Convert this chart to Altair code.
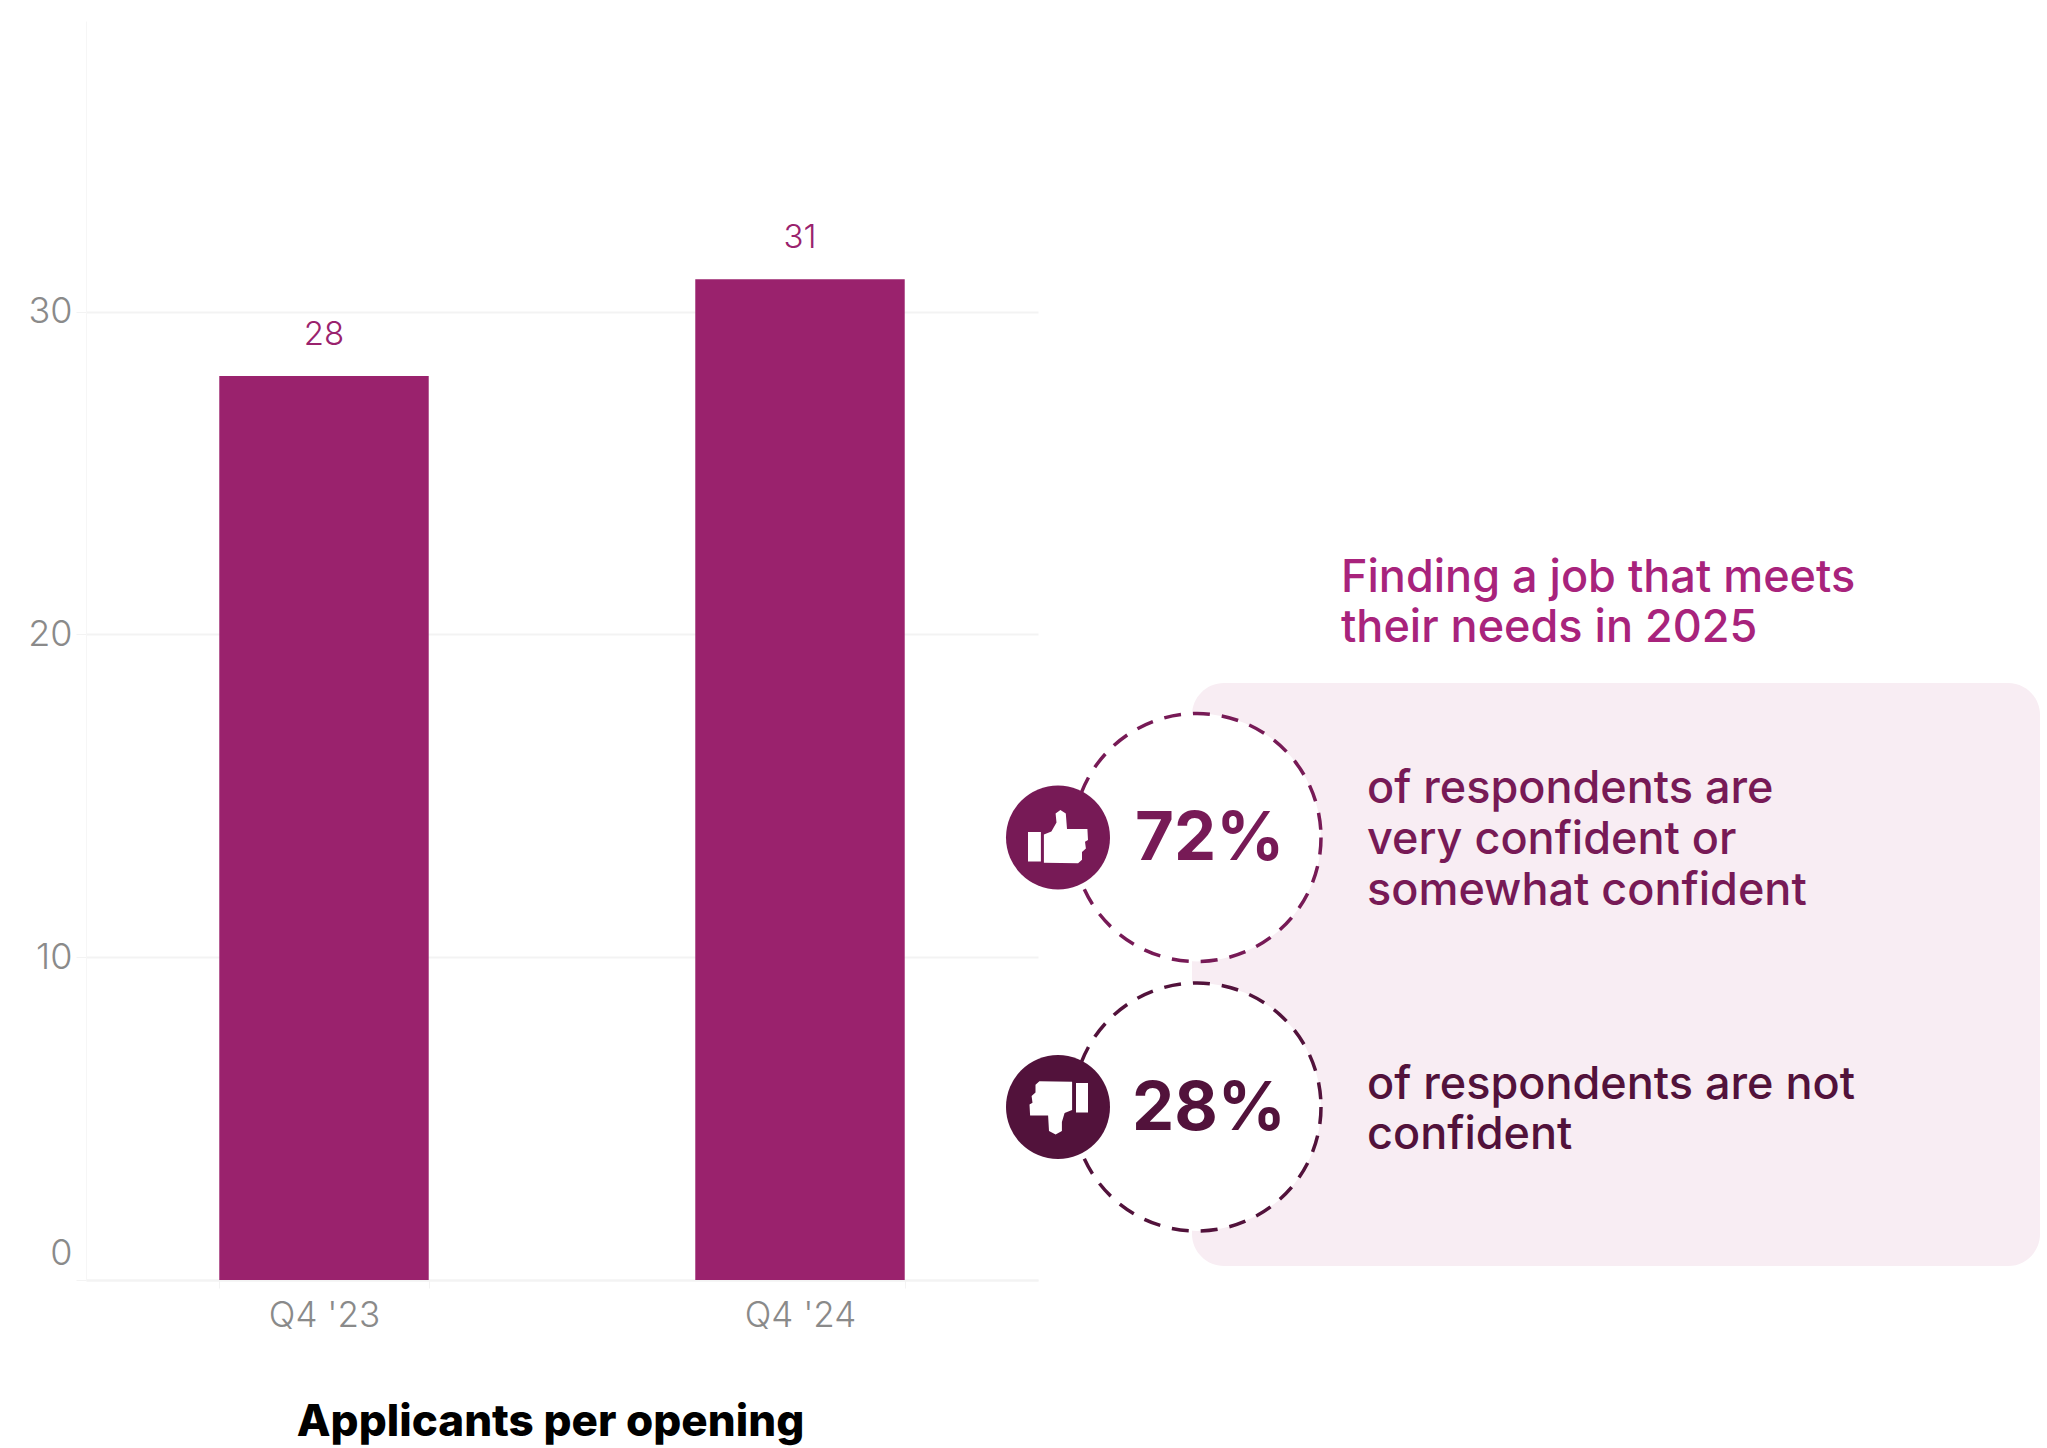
import altair as alt
import pandas as pd

# Applicants per opening, by quarter
quarters = ["Q4 '23", "Q4 '24"]
applicants = [28, 31]
y_ticks = [0, 10, 20, 30]

heading_lines = ["Finding a job that meets", "their needs in 2025"]
confident_share = "72%"
not_confident_share = "28%"
confident_lines = ["of respondents are", "very confident or", "somewhat confident"]
not_confident_lines = ["of respondents are not", "confident"]
axis_title = "Applicants per opening"

PLOT_W, PLOT_H, LEFT, TOP = 952, 1259, 86, 21
BODY = "Inter"
BAR = "#9a226d"
PLUM = "#771a56"
DARK = "#52123b"
HEAD = "#a8237c"
GRID = "#f3f3f3"

df = pd.DataFrame({"quarter": quarters, "applicants": applicants})

x = alt.X(
    "quarter:N",
    sort=quarters,
    scale=alt.Scale(paddingInner=0.56, paddingOuter=0.28),
    axis=alt.Axis(
        title=axis_title,
        titleFont=BODY,
        titleFontSize=44,
        titleFontWeight=800,
        titleColor="#000000",
        titleX=464,
        titleY=120,
        labelFont=BODY,
        labelFontSize=35,
        labelFontWeight=300,
        labelColor="#8a8a8a",
        labelAngle=0,
        labelPadding=10,
        tickBand="extent",
        tickColor=GRID,
        tickSize=8,
        domainColor=GRID,
        domainWidth=2,
        grid=False,
    ),
)
y = alt.Y(
    "applicants:Q",
    scale=alt.Scale(domain=[0, 39], nice=False),
    axis=alt.Axis(
        title=None,
        values=y_ticks,
        labelFont=BODY,
        labelFontSize=36,
        labelFontWeight=300,
        labelColor="#8a8a8a",
        labelPadding=4,
        labelOffset={"condition": {"test": "datum.value === 0", "value": -27}, "value": 0},
        tickColor=GRID,
        tickSize=10,
        domainColor="#f6f6f6",
        gridColor=GRID,
        gridWidth=2,
    ),
)

bars = alt.Chart(df).mark_bar(color=BAR).encode(x=x, y=y)
bar_labels = alt.Chart(df).mark_text(
    font=BODY, fontSize=33, fontWeight=300, color=BAR, dy=-41
).encode(x=alt.X("quarter:N", sort=quarters), y="applicants:Q", text="applicants:Q")


def px(page_x, page_y):
    """Encoding channels for a position given in page pixels."""
    return {"x": alt.value(page_x - LEFT), "y": alt.value(page_y - TOP)}


def note(text, page_x, page_y, size, color, weight=500):
    return alt.Chart(df.head(1)).mark_text(
        font=BODY, fontSize=size, fontWeight=weight, color=color, align="left", baseline="middle"
    ).encode(text=alt.value(text), **px(page_x, page_y))


def symbol(shape, page_x, page_y, size, **style):
    return alt.Chart(df.head(1)).mark_point(shape=shape, size=size, filled=False, opacity=1, **style).encode(
        **px(page_x, page_y)
    )


# Rounded backdrop of the confidence panel
panel = alt.Chart(df.head(1)).mark_rect(color="#f8edf3", cornerRadius=32).encode(
    x=alt.value(1192 - LEFT), x2=alt.value(2040 - LEFT),
    y=alt.value(683 - TOP), y2=alt.value(1266 - TOP),
)

THUMB_UP = (
    "M-1,-.18L-.57,-.18L-.57,.8L-1,.8Z"
    "M-.47,.84L-.47,-.1L-.22,-.2L-.05,-.5L-.08,-.8L.08,-.92L.26,-.8L.3,-.28L.98,-.28"
    "L1,.08L.9,.14L.93,.37L.8,.48L.8,.74L.67,.86Z"
)
THUMB_DOWN = (
    "M1,.18L.6,.18L.6,-.8L1,-.8Z"
    "M.47,-.84L.47,.1L.22,.2L.13,.5L.13,.8L-.08,.92L-.3,.8L-.33,.28L-.93,.28"
    "L-.95,-.08L-.85,-.14L-.88,-.37L-.75,-.48L-.75,-.74L-.62,-.86Z"
)


def badge(center_y, color, glyph):
    return [
        symbol("circle", 1197, center_y, 61504, fill="#ffffff", stroke=color,
               strokeWidth=3.5, strokeDash=[17, 12]),
        symbol("circle", 1058, center_y, 10816, fill=color, stroke=color, strokeWidth=0),
        symbol(glyph, 1058, center_y, 3600, fill="#ffffff", stroke="#ffffff", strokeWidth=0),
    ]


layers = [bars, bar_labels, panel]
layers += badge(837.5, PLUM, THUMB_UP)
layers += badge(1107, DARK, THUMB_DOWN)
layers += [
    note(confident_share, 1135, 840, 67, PLUM, 700),
    note(not_confident_share, 1132, 1110, 67, DARK, 700),
]
for i, line in enumerate(heading_lines):
    layers.append(note(line, 1341, 578 + i * 50, 45, HEAD))
for i, line in enumerate(confident_lines):
    layers.append(note(line, 1367, 789 + i * 51, 45, PLUM))
for i, line in enumerate(not_confident_lines):
    layers.append(note(line, 1367, 1085 + i * 50, 45, DARK))

chart = alt.layer(*layers).properties(
    width=PLOT_W,
    height=PLOT_H,
    padding={"left": LEFT, "top": TOP, "right": 2047 - LEFT - PLOT_W, "bottom": 1448 - TOP - PLOT_H},
    autosize=alt.AutoSizeParams(type="none"),
    background="#ffffff",
).configure_view(stroke=None)

chart.save("out.html", embed_options={"renderer": "svg", "actions": False})
